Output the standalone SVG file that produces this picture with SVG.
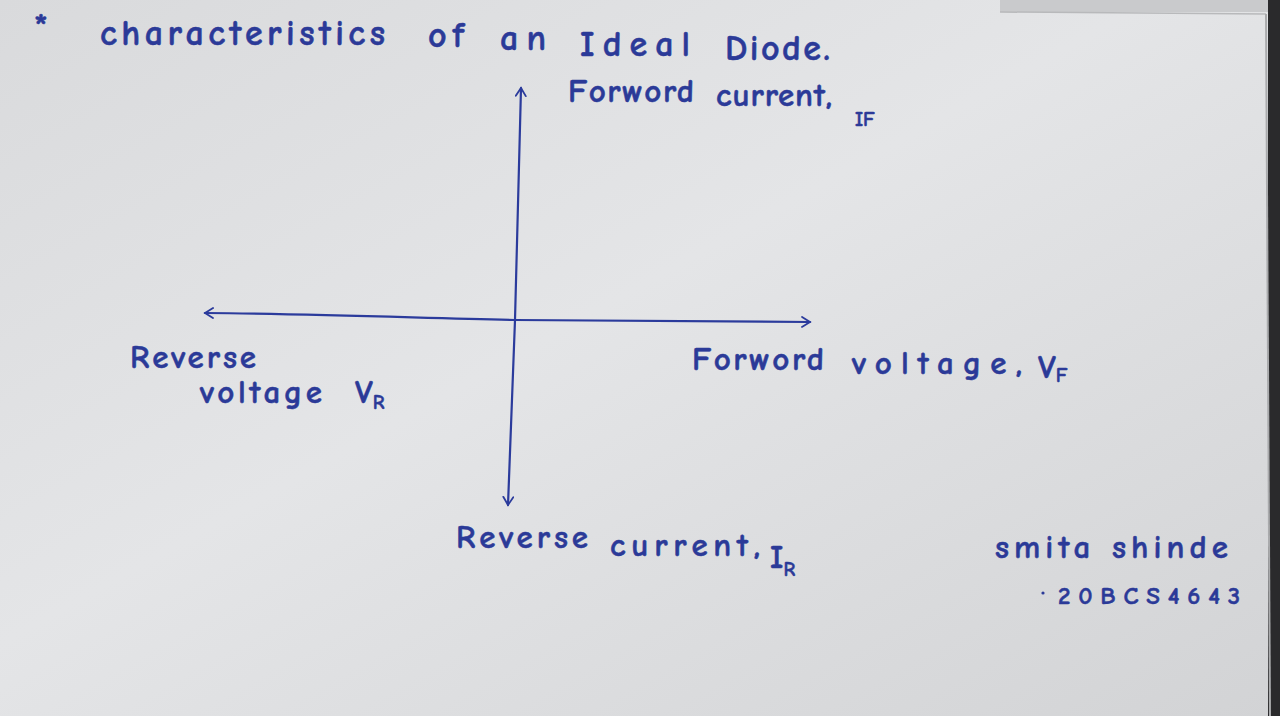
<svg xmlns="http://www.w3.org/2000/svg" width="1280" height="716" viewBox="0 0 1280 716">
  <defs>
    <linearGradient id="paper" x1="0" y1="0" x2="1" y2="1">
      <stop offset="0" stop-color="#d9dadc"/>
      <stop offset="0.45" stop-color="#e4e5e7"/>
      <stop offset="1" stop-color="#d2d3d5"/>
    </linearGradient>
    <marker id="head" viewBox="0 0 12 12" refX="10" refY="6" markerWidth="12" markerHeight="12" markerUnits="userSpaceOnUse" orient="auto">
      <path d="M2,1 L10,6 L2,11" fill="none" stroke="#2b3b9c" stroke-width="1.8" stroke-linecap="round"/>
    </marker>
  </defs>
  <style>
    .ink { fill: #2b3a98; stroke: #2b3a98; stroke-width: 0.5; font-family: "Comic Neue", "DejaVu Sans", "Liberation Sans", sans-serif; font-weight: bold; }
    .t { font-size: 36px; }
    .m { font-size: 33px; }
    .s { font-size: 20px; }
    .axis { fill: none; stroke: #2b3b9c; stroke-width: 2.2; stroke-linecap: round; }
  </style>

  <!-- paper sheet -->
  <rect x="0" y="0" width="1280" height="716" fill="url(#paper)"/>
  <rect x="1000" y="0" width="280" height="12" fill="#c9cacc"/>
  <line x1="1000" y1="12" x2="1266" y2="14" stroke="#b8b9bb" stroke-width="1.5"/>
  <rect x="1268" y="0" width="12" height="716" fill="#2a2a2c"/>
  <line x1="1266" y1="14" x2="1270" y2="716" stroke="#a9aaac" stroke-width="2"/>

  <!-- title, word by word -->
  <g id="title">
    <text class="ink" x="34" y="38" font-size="36">*</text>
    <text class="ink t" x="100" y="45" textLength="285" lengthAdjust="spacing">characteristics</text>
    <text class="ink t" x="428" y="47" textLength="36" lengthAdjust="spacing">of</text>
    <text class="ink t" x="500" y="50" textLength="46" lengthAdjust="spacing">an</text>
    <text class="ink t" x="580" y="56" textLength="110" lengthAdjust="spacing">Ideal</text>
    <text class="ink t" x="725" y="60" textLength="105" lengthAdjust="spacing">Diode.</text>
  </g>

  <!-- axes -->
  <g id="connectors">
    <path class="axis" d="M515,320 C517,240 519,160 521,88" marker-end="url(#head)"/>
    <path class="axis" d="M515,320 C512,390 510,450 508,505" marker-end="url(#head)"/>
    <path class="axis" d="M515,320 C420,318 320,314 205,313" marker-end="url(#head)"/>
    <path class="axis" d="M515,320 C610,320 710,321 810,322" marker-end="url(#head)"/>
  </g>

  <g id="forward-current">
    <text class="ink m" x="568" y="102" textLength="126" lengthAdjust="spacing">Forword</text>
    <text class="ink m" x="716" y="106" textLength="116" lengthAdjust="spacing">current,</text>
    <text class="ink s" x="855" y="126">IF</text>
  </g>

  <g id="reverse-voltage">
    <text class="ink m" x="130" y="368" textLength="126" lengthAdjust="spacing">Reverse</text>
    <text class="ink m" x="200" y="403" textLength="122" lengthAdjust="spacing">voltage</text>
    <text class="ink m" x="355" y="403">V<tspan class="s" dy="6">R</tspan></text>
  </g>

  <g id="forward-voltage">
    <text class="ink m" x="692" y="370" textLength="132" lengthAdjust="spacing">Forword</text>
    <text class="ink m" x="852" y="374" textLength="170" lengthAdjust="spacing">voltage,</text>
    <text class="ink m" x="1038" y="378">V<tspan class="s" dy="4">F</tspan></text>
  </g>

  <g id="reverse-current">
    <text class="ink m" x="456" y="548" textLength="132" lengthAdjust="spacing">Reverse</text>
    <text class="ink m" x="610" y="556" textLength="150" lengthAdjust="spacing">current,</text>
    <text class="ink m" x="770" y="568">I<tspan class="s" dy="8">R</tspan></text>
  </g>

  <g id="signature">
    <text class="ink m" x="995" y="558" textLength="233" lengthAdjust="spacing">smita  shinde</text>
    <circle cx="1043" cy="593" r="1.6" fill="#2b3a98"/>
    <text class="ink" font-size="25" x="1058" y="604" textLength="182" lengthAdjust="spacing">20BCS4643</text>
  </g>
</svg>
